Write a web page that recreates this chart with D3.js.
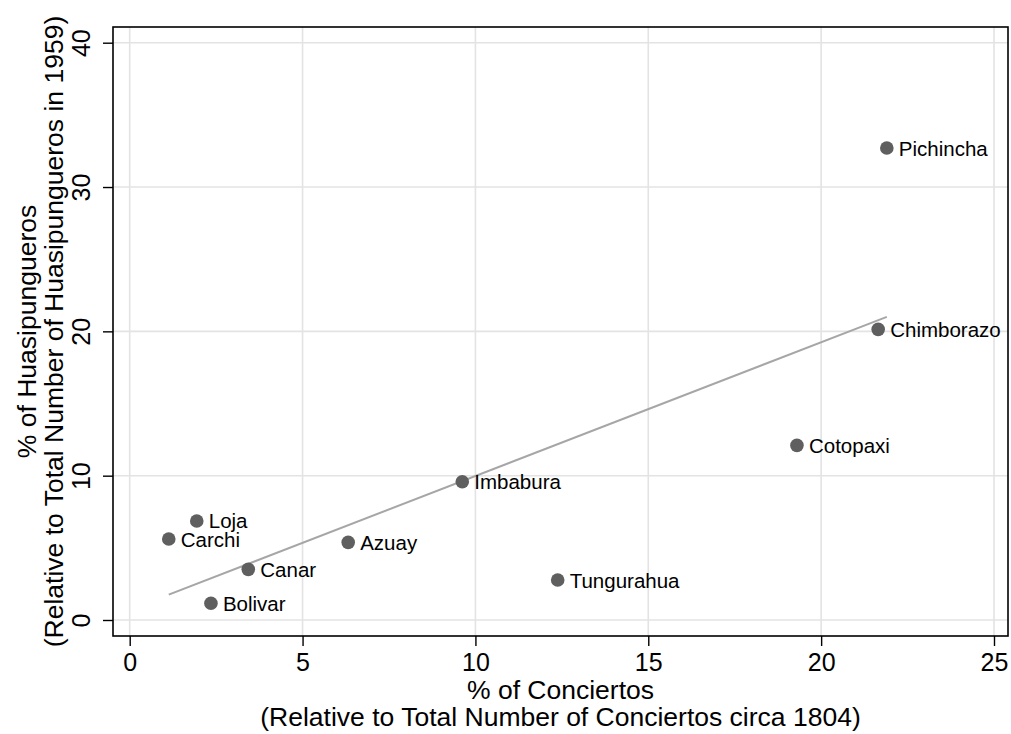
<!DOCTYPE html>
<html>
<head>
<meta charset="utf-8">
<script src="https://cdn.jsdelivr.net/npm/d3@7"></script>
<style>
  html, body { margin: 0; padding: 0; background: #fff; }
  svg { display: block; font-family: "Liberation Sans", Arial, Helvetica, sans-serif; }
</style>
</head>
<body>
<svg id="chart" width="1011" height="734"></svg>
<script>
// Data
const provinces = ["Pichincha", "Chimborazo", "Cotopaxi", "Imbabura", "Tungurahua", "Loja", "Carchi", "Azuay", "Canar", "Bolivar"];
const conciertos = [21.9, 21.65, 19.3, 9.62, 12.38, 1.94, 1.13, 6.32, 3.43, 2.35];
const huasipungueros = [32.7, 20.14, 12.1, 9.58, 2.77, 6.86, 5.61, 5.38, 3.51, 1.16];
const xTicks = [0, 5, 10, 15, 20, 25];
const yTicks = [0, 10, 20, 30, 40];
const xTitle = ["% of Conciertos", "(Relative to Total Number of Conciertos circa 1804)"];
const yTitle = ["% of Huasipungueros", "(Relative to Total Number of Huasipungueros in 1959)"];

const svg = d3.select("#chart");
const frame = { left: 113, right: 1008, top: 27, bottom: 636 };

const x = d3.scaleLinear().domain([0, 25]).range([129.7, 994]);
const y = d3.scaleLinear().domain([0, 40]).range([620, 42.7]);

// gridlines
const grid = svg.append("g");
grid.selectAll(".gx").data(xTicks).enter().append("line")
  .attr("x1", d => x(d)).attr("x2", d => x(d))
  .attr("y1", frame.top).attr("y2", frame.bottom)
  .attr("stroke", "#e3e3e3").attr("stroke-width", 1.6);
grid.selectAll(".gy").data(yTicks).enter().append("line")
  .attr("y1", d => y(d)).attr("y2", d => y(d))
  .attr("x1", frame.left).attr("x2", frame.right)
  .attr("stroke", "#e3e3e3").attr("stroke-width", 1.6);

// fitted line (OLS)
const pts = provinces.map((p, i) => ({ name: p, x: conciertos[i], y: huasipungueros[i] }));
const mx = d3.mean(pts, d => d.x), my = d3.mean(pts, d => d.y);
const slope = d3.sum(pts, d => (d.x - mx) * (d.y - my)) / d3.sum(pts, d => (d.x - mx) ** 2);
const icpt = my - slope * mx;
const [xmin, xmax] = d3.extent(pts, d => d.x);
svg.append("line")
  .attr("x1", x(xmin)).attr("y1", y(icpt + slope * xmin))
  .attr("x2", x(xmax)).attr("y2", y(icpt + slope * xmax))
  .attr("stroke", "#a6a6a6").attr("stroke-width", 2);

// points
svg.append("g").selectAll("circle").data(pts).enter().append("circle")
  .attr("cx", d => x(d.x)).attr("cy", d => y(d.y)).attr("r", 6.8)
  .attr("fill", "#5f5f5f");

svg.append("g").selectAll("text").data(pts).enter().append("text")
  .attr("x", d => x(d.x) + 12).attr("y", d => y(d.y) + 7.5)
  .attr("font-size", 20.5).attr("fill", "#000")
  .text(d => d.name);

// frame
svg.append("rect")
  .attr("x", frame.left).attr("y", frame.top)
  .attr("width", frame.right - frame.left).attr("height", frame.bottom - frame.top)
  .attr("fill", "none").attr("stroke", "#000").attr("stroke-width", 1.6);

// x axis
const xAxis = d3.axisBottom(x).tickValues(xTicks).tickSize(10).tickPadding(7).tickFormat(d3.format("d"));
const gx = svg.append("g").attr("transform", `translate(0,${frame.bottom})`).call(xAxis);
gx.select(".domain").remove();
gx.selectAll(".tick line").attr("stroke", "#000").attr("stroke-width", 1.4);
gx.selectAll(".tick text").attr("font-size", 25).attr("fill", "#000")
  .attr("font-family", "Liberation Sans, Arial, sans-serif");

// y axis
const yAxis = d3.axisLeft(y).tickValues(yTicks).tickSize(10).tickPadding(0).tickFormat(d3.format("d"));
const gy = svg.append("g").attr("transform", `translate(${frame.left},0)`).call(yAxis);
gy.select(".domain").remove();
gy.selectAll(".tick line").attr("stroke", "#000").attr("stroke-width", 1.4);
gy.selectAll(".tick text")
  .attr("font-size", 25).attr("fill", "#000")
  .attr("font-family", "Liberation Sans, Arial, sans-serif")
  .attr("x", null).attr("dy", null)
  .attr("text-anchor", "middle")
  .attr("transform", "translate(-23,0) rotate(-90)");

// x title
const xc = (frame.left + frame.right) / 2;
svg.append("text").attr("x", xc).attr("y", 699).attr("text-anchor", "middle")
  .attr("font-size", 26.5).text(xTitle[0]);
svg.append("text").attr("x", xc).attr("y", 726).attr("text-anchor", "middle")
  .attr("font-size", 26.5).text(xTitle[1]);

// y title
const yc = (frame.top + frame.bottom) / 2;
svg.append("text").attr("transform", `translate(36,${yc}) rotate(-90)`).attr("text-anchor", "middle")
  .attr("font-size", 26.5).text(yTitle[0]);
svg.append("text").attr("transform", `translate(63,${yc}) rotate(-90)`).attr("text-anchor", "middle")
  .attr("font-size", 26.5).text(yTitle[1]);
</script>
</body>
</html>
